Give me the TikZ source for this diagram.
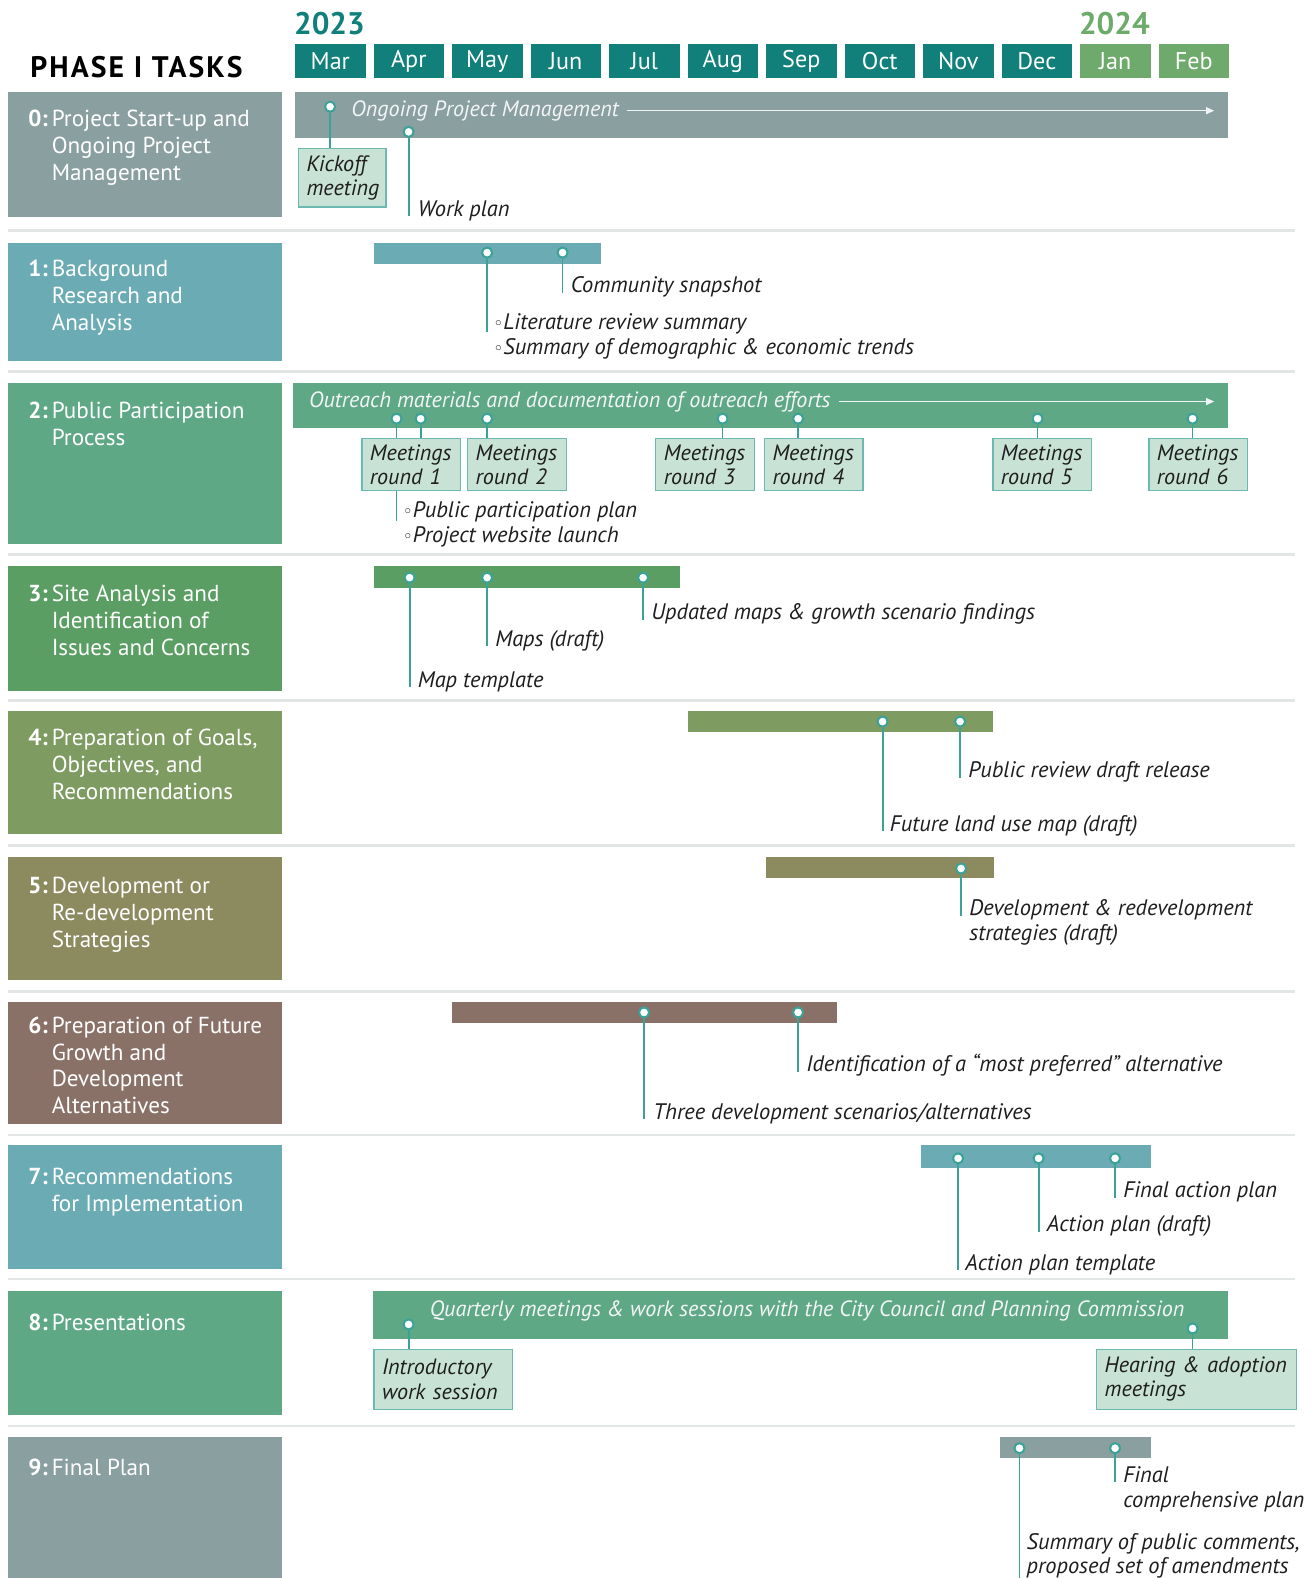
\documentclass[tikz,border=0pt]{standalone}
\usepackage{fontspec}
\setsansfont{PT Sans}
\renewcommand{\familydefault}{\sfdefault}
\newfontfamily\symfont{DejaVu Sans}
\usepackage{tikz}
\usetikzlibrary{arrows.meta,positioning,calc}
\definecolor{monthteal}{HTML}{11807A}
\definecolor{monthgreen}{HTML}{6DAA6B}
\definecolor{slate}{HTML}{8A9FA0}
\definecolor{aqua}{HTML}{6AABB4}
\definecolor{sage}{HTML}{5FA886}
\definecolor{fern}{HTML}{5A9E63}
\definecolor{moss}{HTML}{7E9B62}
\definecolor{olive}{HTML}{8C8A5F}
\definecolor{umber}{HTML}{8A7168}
\definecolor{pincol}{HTML}{3AA297}
\definecolor{mint}{HTML}{C8E3D5}
\definecolor{rulecol}{HTML}{E2E6E6}
\definecolor{ink}{HTML}{1E1E1E}
\newcommand{\bul}{{\symfont\fontsize{17}{17}\selectfont ◦}}
\newcommand{\tasktext}[2]{\textbf{#1:}\kern4pt\begin{tabular}[t]{@{}l@{}}#2\end{tabular}}
\tikzset{
  monthbox/.style={
    rectangle, fill=#1, text=white, anchor=north west, inner sep=0pt,
    minimum width=70pt, minimum height=33pt,
    font=\fontsize{24}{26}\selectfont
  },
  monthbox/.default=monthteal,
  taskbox/.style={
    rectangle, fill=#1, anchor=north west, inner sep=0pt,
    minimum width=272pt
  },
  tasklabel/.style={
    anchor=base west, inner sep=0pt, text=white,
    font=\fontsize{23}{26.5}\selectfont
  },
  barbox/.style={rectangle, fill=#1, anchor=north west, inner sep=0pt},
  bartext/.style={
    text=white!90!slate, inner sep=0pt,
    font=\fontsize{22}{24}\selectfont\itshape
  },
  flowarrow/.style={-{Triangle[length=8pt,width=7pt]}, white!88!slate, line width=1pt},
  pin/.style={
    circle, draw=pincol, fill=white, line width=2pt,
    minimum size=10pt, inner sep=0pt
  },
  pinline/.style={draw=pincol, line width=1.8pt},
  mslabel/.style={
    anchor=base west, inner sep=0pt, text=ink,
    font=\fontsize{22.3}{24}\selectfont\itshape
  },
  meetbox/.style={
    rectangle, draw=pincol!75, fill=mint, line width=1.2pt,
    anchor=north west, inner xsep=8pt, inner ysep=0pt,
    text width=#1, align=left, text=ink,
    font=\fontsize{22}{24}\selectfont\itshape
  },
  meetbox/.default=82pt,
  sepline/.style={draw=rulecol, line width=2.5pt},
}

\begin{document}
\begin{tikzpicture}[x=1pt, y=-1pt]
  \useasboundingbox (0,0) rectangle (1307,1568);

  % Header
  \node[anchor=base west, inner sep=0pt, font=\fontsize{29.5}{30}\selectfont\bfseries\addfontfeatures{LetterSpace=7}]
    (phase) at (30,77) {PHASE I TASKS};
  \node[anchor=base west, inner sep=0pt, text=monthteal, font=\fontsize{31}{32}\selectfont\bfseries]
    (y23) at (292,34) {2023};
  \node[anchor=base west, inner sep=0pt, text=monthgreen, font=\fontsize{31}{32}\selectfont\bfseries]
    (y24) at (1072,34) {2024};
  \foreach \m/\c [count=\i from 0] in {Mar/monthteal, Apr/monthteal, May/monthteal,
      Jun/monthteal, Jul/monthteal, Aug/monthteal, Sep/monthteal, Oct/monthteal,
      Nov/monthteal, Dec/monthteal, Jan/monthgreen, Feb/monthgreen}
    \node[monthbox=\c] (m\i) at (293+\i*78,44) {\m};

  \foreach \y in {229,369,551,696,840,985,1128,1271,1417}
    \draw[sepline] (8,\y) -- (1287,\y);

  % Task boxes
  \node[taskbox=slate, minimum height=124pt] (t0) at (8,91) {};
  \node[taskbox=aqua, minimum height=118pt] (t1) at (8,241) {};
  \node[taskbox=sage, minimum height=160pt] (t2) at (8,380) {};
  \node[taskbox=fern, minimum height=124pt] (t3) at (8,562) {};
  \node[taskbox=moss, minimum height=123pt] (t4) at (8,706) {};
  \node[taskbox=olive, minimum height=123pt] (t5) at (8,851) {};
  \node[taskbox=umber, minimum height=122pt] (t6) at (8,995) {};
  \node[taskbox=aqua, minimum height=123pt] (t7) at (8,1138) {};
  \node[taskbox=sage, minimum height=123pt] (t8) at (8,1283) {};
  \node[taskbox=slate, minimum height=140pt] (t9) at (8,1428) {};

  \node[tasklabel] (l0) at (28,126) {\tasktext{0}{Project Start-up and\\Ongoing Project\\Management}};
  \node[tasklabel] (l1) at (28,275) {\tasktext{1}{Background\\Research and\\Analysis}};
  \node[tasklabel] (l2) at (28,416) {\tasktext{2}{Public Participation\\Process}};
  \node[tasklabel] (l3) at (28,598) {\tasktext{3}{Site Analysis and\\Identification of\\Issues and Concerns}};
  \node[tasklabel] (l4) at (28,741) {\tasktext{4}{Preparation of Goals,\\Objectives, and\\Recommendations}};
  \node[tasklabel] (l5) at (28,888) {\tasktext{5}{Development or\\Re-development\\Strategies}};
  \node[tasklabel] (l6) at (28,1027) {\tasktext{6}{Preparation of Future\\Growth and\\Development\\Alternatives}};
  \node[tasklabel] (l7) at (28,1177) {\tasktext{7}{Recommendations\\for Implementation}};
  \node[tasklabel] (l8) at (28,1322) {\tasktext{8}{Presentations}};
  \node[tasklabel] (l9) at (28,1466) {\tasktext{9}{Final Plan}};

  % Bars
  \node[barbox=slate, minimum width=927pt, minimum height=46pt] (b0) at (293,91) {};
  \node[barbox=aqua, minimum width=226pt, minimum height=21pt] (b1) at (371,241) {};
  \node[barbox=sage, minimum width=929pt, minimum height=45pt] (b2) at (291,380) {};
  \node[barbox=fern, minimum width=304pt, minimum height=22pt] (b3) at (371,562) {};
  \node[barbox=moss, minimum width=303pt, minimum height=21pt] (b4) at (683,706) {};
  \node[barbox=olive, minimum width=226pt, minimum height=21pt] (b5) at (761,851) {};
  \node[barbox=umber, minimum width=382pt, minimum height=21pt] (b6) at (449,995) {};
  \node[barbox=aqua, minimum width=228pt, minimum height=22pt] (b7) at (915,1138) {};
  \node[barbox=sage, minimum width=850pt, minimum height=47pt] (b8) at (370,1283) {};
  \node[barbox=slate, minimum width=150pt, minimum height=21pt] (b9) at (993,1428) {};

  % Row 0
  \node[bartext, anchor=west] (ogm) at (349,110) {Ongoing Project Management};
  \draw[flowarrow] ([xshift=8pt]ogm.east) -- ([xshift=-14pt]ogm.east -| b0.east);
  \node[pin] (p0a) at (328,106) {};
  \node[pin] (p0b) at (406,131) {};
  \node[meetbox=71pt, minimum height=58pt] (kick) at (296,147) {Kickoff\\meeting};
  \node[mslabel] (wplan) at (415,215) {Work plan};
  \draw[pinline] (p0a) -- (p0a |- kick.north);
  \draw[pinline] (p0b) -- (p0b |- wplan.base);

  % Row 1
  \node[pin] (p1a) at (484,251) {};
  \node[pin] (p1b) at (559,251) {};
  \node[mslabel] (snap) at (567,291) {Community snapshot};
  \node[mslabel] (lit) at (490,327) {\bul Literature review summary};
  \node[mslabel] (demo) at (490,352) {\bul Summary of demographic \& economic trends};
  \draw[pinline] (p1a) -- ([yshift=-3pt]p1a |- lit.base);
  \draw[pinline] (p1b) -- (p1b |- snap.base);

  % Row 2
  \node[bartext, anchor=west] (outr) at (307,399) {Outreach materials and documentation of outreach efforts};
  \draw[flowarrow] ([xshift=8pt]outr.east) -- ([xshift=-14pt]outr.east -| b2.east);
  \foreach \x [count=\i] in {394,418,484,718,793,1031,1185}
    \node[pin] (p2\i) at (\x,416) {};
  \foreach \x/\r in {359/1, 464/2, 651/3, 759/4, 986/5, 1141/6}
    \node[meetbox, minimum height=52pt] (mr\r) at (\x,435) {Meetings\\round \r};
  \draw[pinline] (p21) -- (p21 |- mr1.north);
  \draw[pinline] (p22) -- (p22 |- mr1.north);
  \draw[pinline] (p23) -- (p23 |- mr2.north);
  \draw[pinline] (p24) -- (p24 |- mr3.north);
  \draw[pinline] (p25) -- (p25 |- mr4.north);
  \draw[pinline] (p26) -- (p26 |- mr5.north);
  \draw[pinline] (p27) -- (p27 |- mr6.north);
  \node[mslabel] (ppl) at (400,514) {\bul Public participation plan};
  \node[mslabel] (web) at (400,539) {\bul Project website launch};
  \draw[pinline] (p21 |- mr1.south) -- ([yshift=-4pt]p21 |- ppl.base);

  % Row 3
  \node[pin] (p3a) at (407,574) {};
  \node[pin] (p3b) at (484,574) {};
  \node[pin] (p3c) at (639,574) {};
  \node[mslabel] (mtpl) at (415,683) {Map template};
  \node[mslabel] (mdraft) at (492,642) {Maps (draft)};
  \node[mslabel] (upd) at (647,616) {Updated maps \& growth scenario findings};
  \draw[pinline] (p3a) -- (p3a |- mtpl.base);
  \draw[pinline] (p3b) -- (p3b |- mdraft.base);
  \draw[pinline] (p3c) -- (p3c |- upd.base);

  % Row 4
  \node[pin] (p4a) at (877,717) {};
  \node[pin] (p4b) at (954,717) {};
  \node[mslabel] (prev) at (962,773) {Public review draft release};
  \node[mslabel] (flu) at (884,826) {Future land use map (draft)};
  \draw[pinline] (p4a) -- (p4a |- flu.base);
  \draw[pinline] (p4b) -- (p4b |- prev.base);

  % Row 5
  \node[pin] (p5a) at (955,863) {};
  \node[mslabel] (dev) at (963,910) {Development \& redevelopment};
  \node[mslabel] (strat) at (963,935) {strategies (draft)};
  \draw[pinline] (p5a) -- (p5a |- dev.base);

  % Row 6
  \node[pin] (p6a) at (640,1006) {};
  \node[pin] (p6b) at (793,1006) {};
  \node[mslabel] (pref) at (801,1065) {Identification of a “most preferred” alternative};
  \node[mslabel] (three) at (649,1112) {Three development scenarios/alternatives};
  \draw[pinline] (p6a) -- (p6a |- three.base);
  \draw[pinline] (p6b) -- (p6b |- pref.base);

  % Row 7
  \node[pin] (p7a) at (952,1151) {};
  \node[pin] (p7b) at (1032,1151) {};
  \node[pin] (p7c) at (1108,1151) {};
  \node[mslabel] (fap) at (1116,1190) {Final action plan};
  \node[mslabel] (apd) at (1040,1224) {Action plan (draft)};
  \node[mslabel] (apt) at (959,1262) {Action plan template};
  \draw[pinline] (p7a) -- (p7a |- apt.base);
  \draw[pinline] (p7b) -- (p7b |- apd.base);
  \draw[pinline] (p7c) -- (p7c |- fap.base);

  % Row 8
  \node[bartext] (qtr) at (802,1303) {Quarterly meetings \& work sessions with the City Council and Planning Commission};
  \node[pin] (p8a) at (406,1316) {};
  \node[pin] (p8b) at (1185,1320) {};
  \node[meetbox=122pt, minimum height=60pt] (intro) at (371,1340) {Introductory\\work session};
  \node[meetbox=183pt, minimum height=60pt] (hear) at (1089,1340) {Hearing \& adoption\\meetings};
  \draw[pinline] (p8a) -- (p8a |- intro.north);
  \draw[pinline] (p8b) -- (p8b |- hear.north);

  % Row 9
  \node[pin] (p9a) at (1013,1439) {};
  \node[pin] (p9b) at (1108,1439) {};
  \node[mslabel] (fin) at (1116,1473) {Final};
  \node[mslabel] (comp) at (1116,1498) {comprehensive plan};
  \node[mslabel] (summ) at (1020,1540) {Summary of public comments,};
  \node[mslabel] (amend) at (1020,1564) {proposed set of amendments};
  \draw[pinline] (p9a) -- (p9a |- amend.south);
  \draw[pinline] (p9b) -- (p9b |- fin.base);
\end{tikzpicture}
\end{document}
